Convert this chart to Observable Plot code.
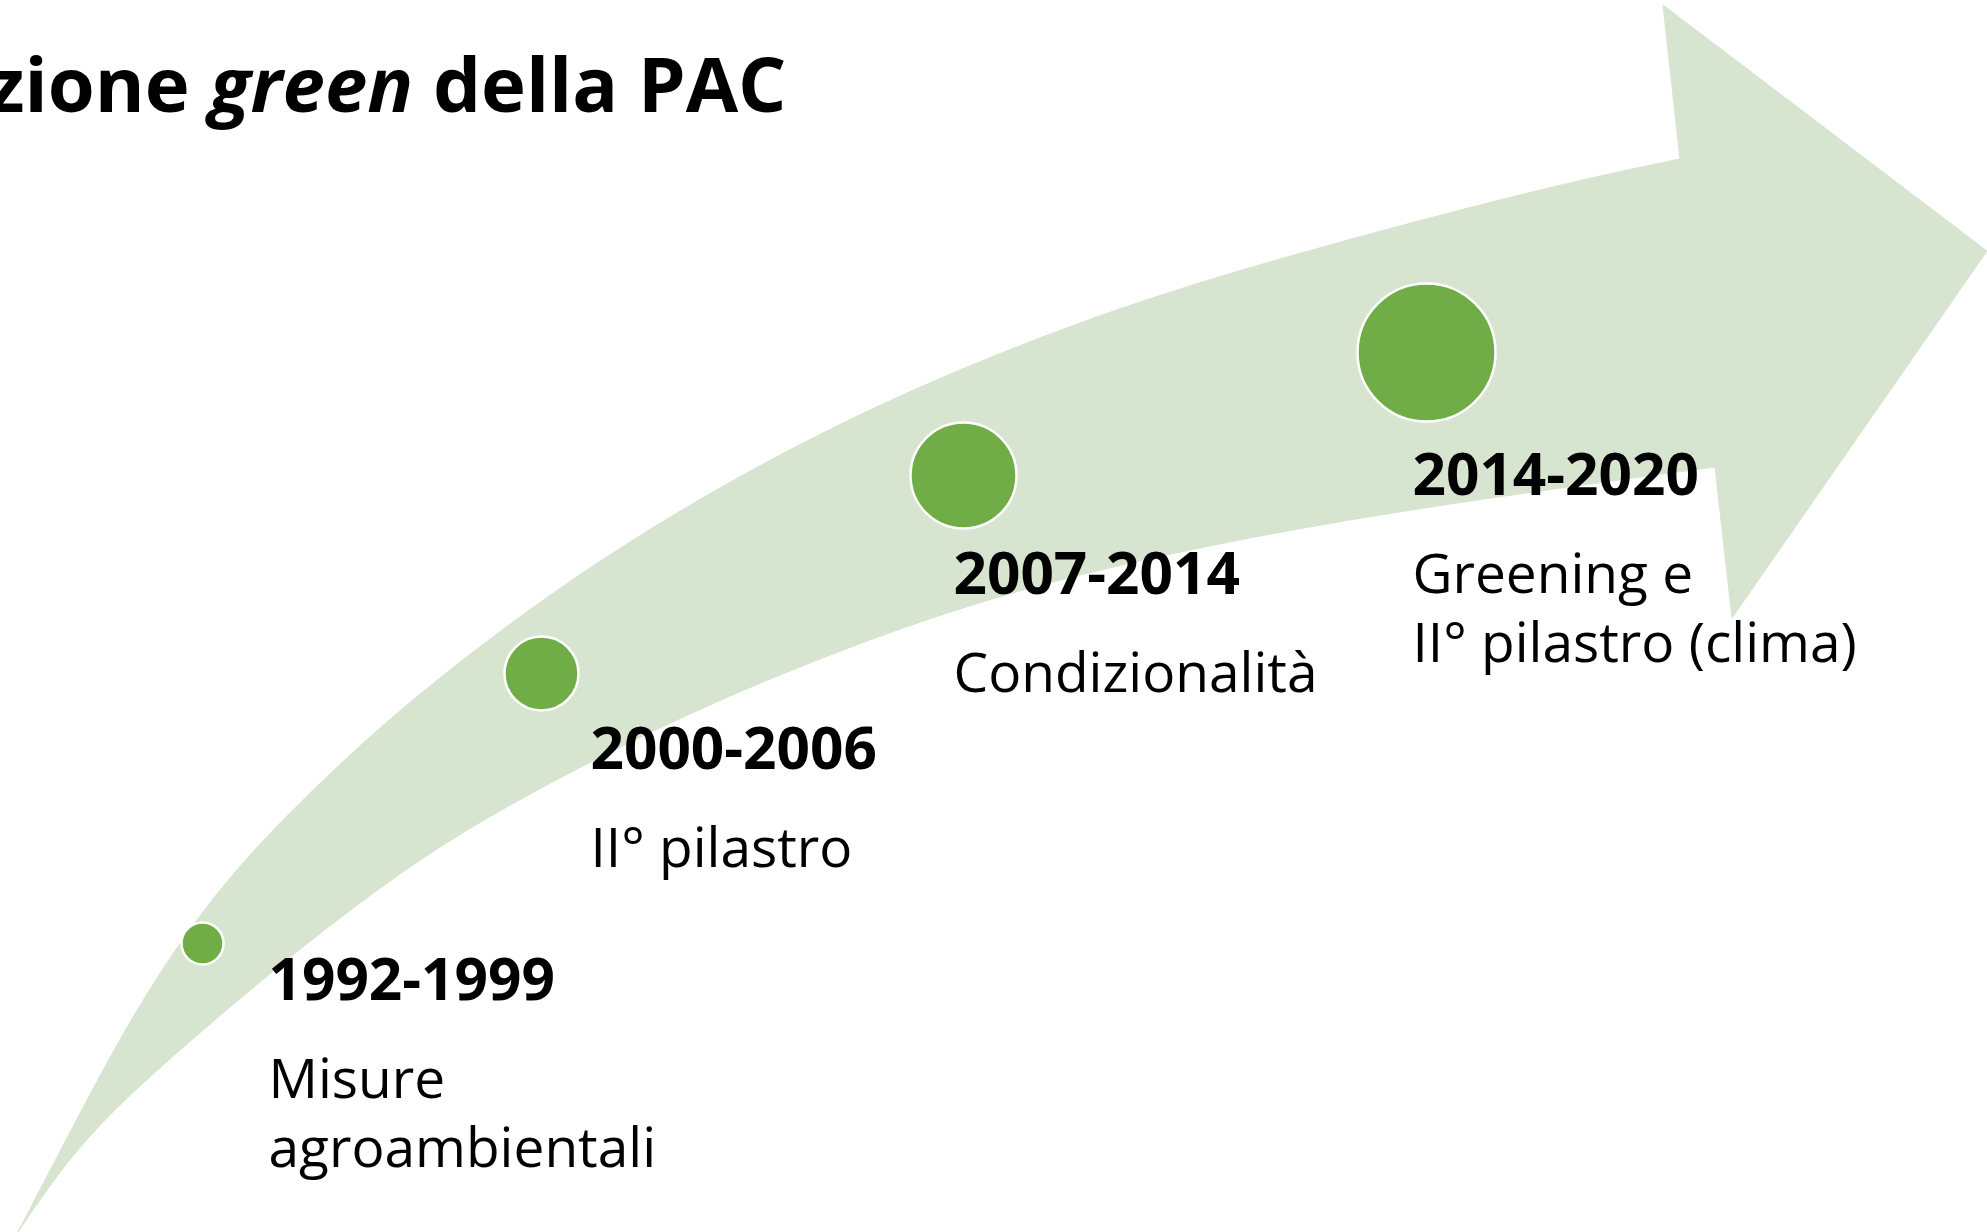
<!DOCTYPE html>
<html>
<head>
<meta charset="utf-8">
<script src="https://cdn.jsdelivr.net/npm/d3@7"></script>
<script src="https://cdn.jsdelivr.net/npm/@observablehq/plot@0.6"></script>
<style>
  html, body { margin: 0; padding: 0; background: #ffffff; }
  #chart { width: 1987px; height: 1232px; overflow: hidden; }
</style>
</head>
<body>
<div id="chart"></div>
<script>
// ---- Title (visible part; the start is cut off in the original) ----
const titleStart = "zione ";
const titleItalic = "green";
const titleEnd = " della PAC";
const titleAnchorX = [786];
const titleAnchorY = [111];

// ---- Stages of the timeline ----
const periods = ["1992-1999", "2000-2006", "2007-2014", "2014-2020"];
const descriptions = ["Misure\nagroambientali", "II° pilastro", "Condizionalità", "Greening e\nII° pilastro (clima)"];
const stageRank = [1, 2, 3, 4];
const dotX = [202, 541, 963, 1426];
const dotY = [943, 673, 475, 352];
const labelX = [268, 590, 953, 1412];
const labelY = [999, 768, 593, 494];

// ---- Curved arrow body: outer (upper) and inner (lower) edge ----
const outerEdgeX = [18, 70, 140, 223, 320, 417, 607, 850, 1100, 1300, 1550, 1680];
const outerEdgeY = [1232, 1132, 1000, 880, 782, 693, 550, 413, 312, 252, 186, 159];
const innerEdgeX = [18, 60, 110, 200, 300, 400, 500, 700, 930, 1100, 1300, 1500, 1715];
const innerEdgeY = [1232, 1170, 1112, 1032, 948, 872, 808, 705, 615, 568, 527, 496, 467];

// ---- Arrow head ----
const headOuterX = [1680, 1663, 1987];
const headOuterY = [159, 5, 251];
const headInnerX = [1715, 1732, 1987];
const headInnerY = [467, 618, 251];

const bandColor = "#d7e4cf";
const dotColor = "#70ad47";
const fontFamily = "'Open Sans', 'Noto Sans', sans-serif";

const stages = periods.map((p, i) => ({
  period: p, desc: descriptions[i], rank: stageRank[i],
  x: dotX[i], y: dotY[i], lx: labelX[i], ly: labelY[i]
}));
// pair the two edges point by point (the shorter edge repeats its last point)
const n = Math.max(outerEdgeX.length, innerEdgeX.length);
const pick = (arr, i) => arr[Math.min(i, arr.length - 1)];
const body = d3.range(n).map(i => ({
  x1: pick(outerEdgeX, i), y1: pick(outerEdgeY, i),
  x2: pick(innerEdgeX, i), y2: pick(innerEdgeY, i)
}));
const head = headOuterX.map((_, i) => ({x1: headOuterX[i], y1: headOuterY[i], x2: headInnerX[i], y2: headInnerY[i]}));
const titleFull = titleStart + titleItalic + titleEnd;
const titleRows = [{t: titleFull, x: titleAnchorX[0], y: titleAnchorY[0]}];

const fsHead = 58.5;
const fsDesc = 55;
const lineGap = 70;
const descOffset = 98;

const plot = Plot.plot({
  width: 1987,
  height: 1232,
  margin: 0,
  x: {domain: [0, 1987], axis: null},
  y: {domain: [0, 1232], reverse: true, axis: null},
  r: {type: "linear", domain: [1, 4], range: [21, 69]},
  style: {fontFamily, background: "#ffffff", color: "#000000"},
  marks: [
    Plot.area(body, {x1: "x1", y1: "y1", x2: "x2", y2: "y2", curve: "basis", fill: bandColor, stroke: bandColor, strokeWidth: 1}),
    Plot.area(head, {x1: "x1", y1: "y1", x2: "x2", y2: "y2", curve: "linear", fill: bandColor, stroke: bandColor, strokeWidth: 1}),
    Plot.dot(stages, {x: "x", y: "y", r: "rank", fill: dotColor, stroke: "#ffffff", strokeWidth: 2.5}),
    Plot.text(stages, {x: "lx", y: "ly", text: "period", textAnchor: "start", lineAnchor: "bottom",
      fontSize: fsHead, fontWeight: "bold", fontFamily, fill: "#000000"}),
    Plot.text(stages, {x: "lx", y: "ly", text: "desc", textAnchor: "start", lineAnchor: "top",
      lineHeight: lineGap / fsDesc, dy: descOffset - 0.71 * lineGap,
      fontSize: fsDesc, fontFamily, fill: "#000000"}),
    Plot.text(titleRows, {x: "x", y: "y", text: "t", textAnchor: "end", lineAnchor: "bottom",
      fontSize: 76, fontWeight: "bold", fontFamily, fill: "#000000"})
  ]
});

// style the title: italic middle word
const ns = "http://www.w3.org/2000/svg";
plot.querySelectorAll("text").forEach(node => {
  if (node.textContent === titleFull) {
    node.textContent = "";
    [[titleStart, false], [titleItalic, true], [titleEnd, false]].forEach(([s, it]) => {
      const ts = document.createElementNS(ns, "tspan");
      ts.textContent = s;
      if (it) ts.setAttribute("font-style", "italic");
      node.appendChild(ts);
    });
    node.style.whiteSpace = "pre";
  }
});

document.getElementById("chart").appendChild(plot);
</script>
</body>
</html>
